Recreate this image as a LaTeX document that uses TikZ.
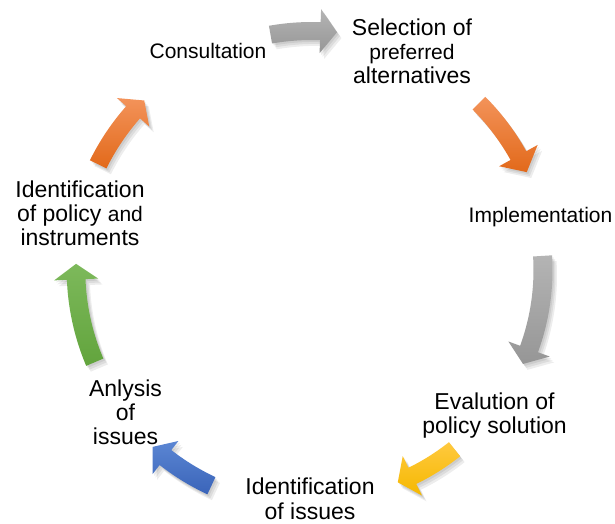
\documentclass[tikz,border=0pt]{standalone}
\usepackage{fontspec}
\setmainfont{Liberation Sans}
\begin{document}
% centre of the cycle of curved arrows
\def\cyclecx{312}
\def\cyclecy{270}
% outline of a curved block arrow: radius, tail angle, head-base angle, tip angle, half shaft width, half head width
\newcommand\cyclearrowpath[6]{%
  plot[domain=#2:#3, samples=30, variable=\t] ({\cyclecx+(#1+#5)*cos(\t)}, {\cyclecy+(#1+#5)*sin(\t)})
  -- ({\cyclecx+(#1+#6)*cos(#3)}, {\cyclecy+(#1+#6)*sin(#3)})
  -- ({\cyclecx+#1*cos(#4)}, {\cyclecy+#1*sin(#4)})
  -- ({\cyclecx+(#1-#6)*cos(#3)}, {\cyclecy+(#1-#6)*sin(#3)})
  -- plot[domain=#3:#2, samples=30, variable=\t] ({\cyclecx+(#1-#5)*cos(\t)}, {\cyclecy+(#1-#5)*sin(\t)})
  -- cycle}
% curved arrow with a soft shadow and a vertical gradient
\newcommand\cyclearrow[8]{%
  \foreach \s in {1.5,3,4.5}{%
    \fill[black, opacity=0.07, shift={(\s,1.3*\s)}] \cyclearrowpath{#3}{#4}{#5}{#6}{#7}{#8};
  }
  \shade[top color=#1, bottom color=#2] \cyclearrowpath{#3}{#4}{#5}{#6}{#7}{#8};
}
\definecolor{orangetop}{HTML}{F3935A}
\definecolor{orangebot}{HTML}{E2691A}
\definecolor{graytop}{HTML}{B4B4B4}
\definecolor{graybot}{HTML}{969696}
\definecolor{yellowtop}{HTML}{FFC93F}
\definecolor{yellowbot}{HTML}{F5B800}
\definecolor{bluetop}{HTML}{5B86D3}
\definecolor{bluebot}{HTML}{3A64B9}
\definecolor{greentop}{HTML}{7DB95B}
\definecolor{greenbot}{HTML}{62A43D}
\newcommand\mainsize{\fontsize{23}{24}\selectfont}
\newcommand\smallsize{\fontsize{21}{24}\selectfont}
% strut with the usual height but no depth, for a last line without descenders
\newcommand\highstrut{\rule{0pt}{16.8pt}}
\begin{tikzpicture}[x=1pt, y=-1pt,
  lbl/.style={align=center, inner sep=0pt, anchor=center, font=\mainsize, text=black}]
\useasboundingbox (0,0) rectangle (615,524);
\fill[white] (0,0) rectangle (615,524);

% arrows of the cycle, clockwise
\cyclearrow{graytop}{graybot}{239}{260}{272}{276}{9}{22}
\cyclearrow{orangetop}{orangebot}{236}{315}{331}{335.5}{9}{22}
\cyclearrow{graytop}{graybot}{231}{356.5}{380}{384}{9.5}{22}
\cyclearrow{yellowtop}{yellowbot}{229}{51.5}{64}{68}{9}{22}
\cyclearrow{bluetop}{bluebot}{238}{115}{128}{132}{9.5}{21}
\cyclearrow{greentop}{greenbot}{236}{157}{177.7}{181.5}{9.3}{22}
\cyclearrow{orangetop}{orangebot}{238.5}{206.3}{221.4}{225.3}{9.2}{21.5}

% stages
\node[lbl] (consult) at (208,54.2) {\strut{\smallsize Consultation}};
\node[lbl] (select) at (412,55.2) {\strut Selection of\\\strut{\smallsize preferred}\\\strut alternatives};
\node[lbl] (implement) at (540.5,217.2) {\strut{\smallsize Implementation}};
\node[lbl] (evaluate) at (494.5,416.7) {\strut Evalution of\\\strut policy solution};
\node[lbl] (identissues) at (310,498.6) {\strut Identification\\\highstrut of issues};
\node[lbl] (analyse) at (125.5,415.7) {\strut Anlysis\\\strut of\\\strut issues};
\node[lbl] (identpolicy) at (80,216.2) {\strut Identification\\\strut of policy {\smallsize and}\\\strut instruments};
\end{tikzpicture}
\end{document}
